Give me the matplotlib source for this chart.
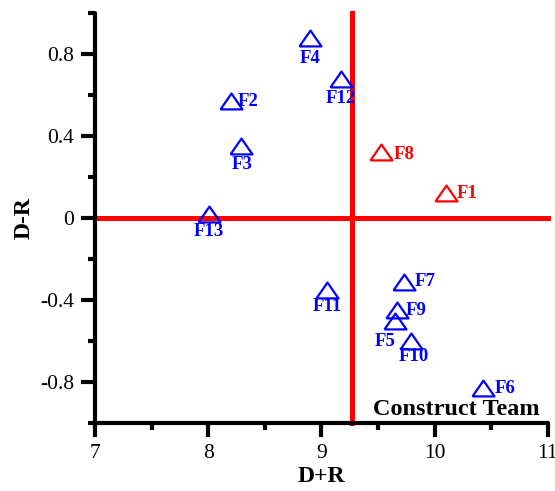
import matplotlib.pyplot as plt
from matplotlib.ticker import MultipleLocator

plt.rcParams["font.family"] = ["Liberation Serif", "DejaVu Serif"]

# Factors on the D+R / D-R plane
factors = ["F1", "F2", "F3", "F4", "F5", "F6", "F7", "F8", "F9", "F10", "F11", "F12", "F13"]
d_plus_r = [10.10, 8.20, 8.29, 8.90, 9.65, 10.43, 9.73, 9.53, 9.67, 9.79, 9.05, 9.17, 8.01]
d_minus_r = [0.12, 0.57, 0.35, 0.88, -0.50, -0.83, -0.31, 0.32, -0.45, -0.60, -0.35, 0.68, 0.02]
highlighted = ["F1", "F8"]
mean_dr = 9.27

# label placement (offset in px, alignment)
LABEL_POS = {
    "F1": (11, 0, "left", "center"),
    "F2": (7, 0, "left", "center"),
    "F3": (1, -18, "center", "center"),
    "F4": (0, -21, "center", "center"),
    "F5": (-10, -21, "center", "center"),
    "F6": (11, 0, "left", "center"),
    "F7": (11, 0, "left", "center"),
    "F8": (12, -2, "left", "center"),
    "F9": (9, 0, "left", "center"),
    "F10": (3, -16, "center", "center"),
    "F11": (0, -17, "center", "center"),
    "F12": (0, -20, "center", "center"),
    "F13": (0, -18, "center", "center"),
}

PX = 0.72  # points per pixel at dpi 100
TRI = [(-1, -0.72), (1, -0.72), (0, 0.72), (-1, -0.72)]

fig = plt.figure(figsize=(5.55, 4.91), dpi=100)
ax = fig.add_axes([0.171, 0.1385, 0.816, 0.835])

ax.plot([7, 11], [0, 0], color="red", lw=3.6, zorder=1, clip_on=False)
ax.plot([mean_dr, mean_dr], [-1, 1], color="red", lw=3.6, zorder=1, clip_on=False)

for name, x, y in zip(factors, d_plus_r, d_minus_r):
    c = "red" if name in highlighted else "blue"
    ax.plot(x, y, marker=TRI, ms=22 * PX, mfc="none", mec=c, mew=1.6, ls="none",
            zorder=3, clip_on=False)
    dx, dy, ha, va = LABEL_POS[name]
    ax.annotate(name, (x, y), xytext=(dx * PX, dy * PX), textcoords="offset points",
                ha=ha, va=va, color=c, fontsize=13.5, fontweight="bold", zorder=4)

ax.set_xlim(7, 11)
ax.set_ylim(-1, 1)
ax.xaxis.set_major_locator(MultipleLocator(1))
ax.xaxis.set_minor_locator(MultipleLocator(0.5))
ax.yaxis.set_major_locator(MultipleLocator(0.4))
ax.yaxis.set_minor_locator(MultipleLocator(0.2))
ax.set_yticks([-0.8, -0.4, 0, 0.4, 0.8])
ax.set_yticklabels(["-0.8", "-0.4", "0", "0.4", "0.8"])

for s in ["top", "right"]:
    ax.spines[s].set_visible(False)
for s in ["left", "bottom"]:
    ax.spines[s].set_linewidth(3)
    ax.spines[s].set_capstyle("round")

ax.tick_params(which="major", direction="out", length=10, width=3, labelsize=15.5, pad=5)
ax.tick_params(which="minor", direction="out", length=5, width=3)

ax.set_xlabel("D+R", fontsize=17, fontweight="bold", labelpad=2)
ax.set_ylabel("D-R", fontsize=17, fontweight="bold", labelpad=4)

ax.text(0.982, 0.02, "Construct Team", transform=ax.transAxes, ha="right", va="baseline",
        fontsize=17.5, fontweight="bold", zorder=5)

fig.savefig("out.png", dpi=100)
